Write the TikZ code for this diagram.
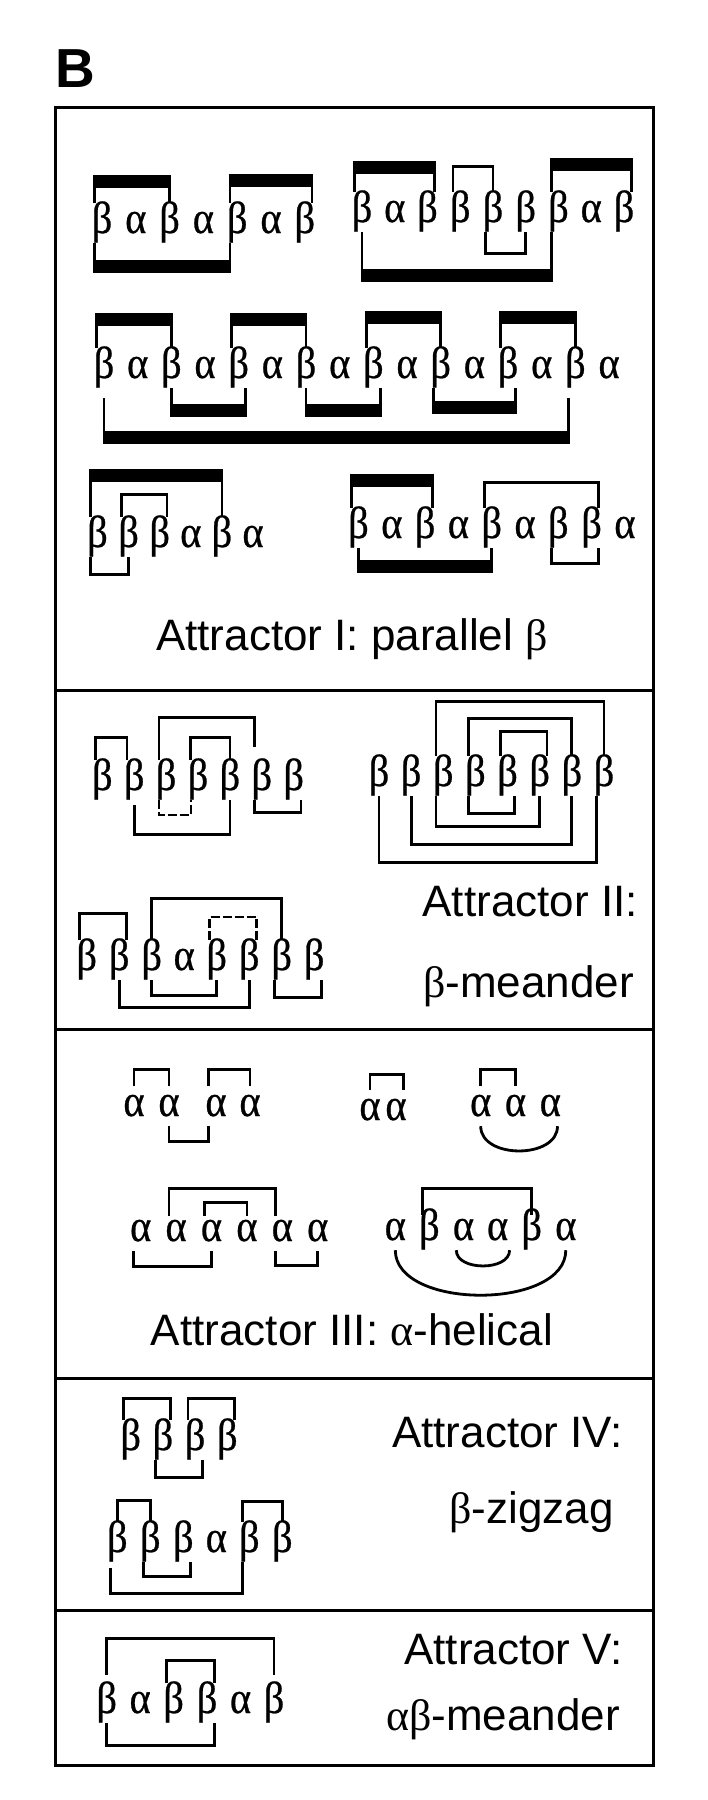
\documentclass[tikz,border=0pt]{standalone}
\usepackage{fontspec}
\setmainfont{Liberation Sans}
\newfontfamily\grkfont[FakeStretch=0.9, FakeBold=0.6]{Liberation Serif}
\newfontfamily\capgrk{Liberation Serif}

\begin{document}
\begin{tikzpicture}[
    x=1pt, y=-1pt,
    res/.style={inner sep=0pt, anchor=base, text height=30pt, text depth=10pt, font=\grkfont\fontsize{45pt}{45pt}\selectfont},
    link/.style={line width=2.8pt},
    bar/.style={line width=13pt, shorten <=-1.4pt, shorten >=-1.4pt},
    broken/.style={line width=2.5pt, dash pattern=on 9pt off 3pt},
    topbr/.style={to path={-- ++(0,-#1) -| (\tikztotarget)}},
    botbr/.style={to path={-- ++(0,#1) -| (\tikztotarget)}},
    panel/.style={draw, line width=3pt, minimum width=598pt, inner sep=0pt},
    attlabel/.style={inner sep=0pt, font=\fontsize{44pt}{44pt}\selectfont}
]
    \useasboundingbox (0,0) rectangle (708,1800);

    \node[anchor=base west, inner sep=0pt, font=\bfseries\fontsize{55pt}{55pt}\selectfont] (lab) at (55,87) {B};

    % Panels
    \node[panel, minimum height=583pt] (att1) at (354,398.5) {};
    \node[panel, minimum height=339pt] (att2) at (354,859.5) {};
    \node[panel, minimum height=349pt] (att3) at (354,1203.5) {};
    \node[panel, minimum height=232pt] (att4) at (354,1494) {};
    \node[panel, minimum height=155pt] (att5) at (354,1687.5) {};

    % Attractor I: parallel beta
    \foreach \s [count=\i] in {β,α,β,α,β,α,β}
        \node[res] (p1-\i) at ({102+33.8*(\i-1)},233) {\makebox[14pt]{\s}};
    \foreach \s [count=\i] in {β,α,β,β,β,β,β,α,β}
        \node[res] (p2-\i) at ({362+32.75*(\i-1)},222) {\makebox[14pt]{\s}};
    \foreach \s [count=\i] in {β,α,β,α,β,α,β,α,β,α,β,α,β,α,β,α}
        \node[res] (p3-\i) at ({104+33.67*(\i-1)},378) {\makebox[14pt]{\s}};
    \foreach \s [count=\i] in {β,β,β,α,β,α}
        \node[res] (p4-\i) at ({97.5+31.1*(\i-1)},547) {\makebox[14pt]{\s}};
    \foreach \s [count=\i] in {β,α,β,α,β,α,β,β,α}
        \node[res] (p5-\i) at ({358.5+33.3*(\i-1)},538) {\makebox[14pt]{\s}};

    \draw[link] (p1-1.north west) to[topbr=21] (p1-3.north);
    \draw[bar] ([yshift=21pt]p1-1.north west) -- ([yshift=21pt]p1-3.north);
    \draw[link] (p1-5.north west) to[topbr=22] (p1-7.north east);
    \draw[bar] ([yshift=22pt]p1-5.north west) -- ([yshift=22pt]p1-7.north east);
    \draw[link] (p1-1.south west) to[botbr=23.5] (p1-5.south west);
    \draw[bar] ([yshift=-23.5pt]p1-1.south west) -- ([yshift=-23.5pt]p1-5.south west);

    \draw[link] (p2-1.north west) to[topbr=24] (p2-3.north east);
    \draw[bar] ([yshift=24pt]p2-1.north west) -- ([yshift=24pt]p2-3.north east);
    \draw[link] (p2-4.north west) to[topbr=25] (p2-5.north);
    \draw[link] (p2-7.north west) to[topbr=27] (p2-9.north east);
    \draw[bar] ([yshift=27pt]p2-7.north west) -- ([yshift=27pt]p2-9.north east);
    \draw[link] (p2-5.south west) to[botbr=21] (p2-6.south);
    \draw[link] (p2-1.south) to[botbr=43.5] (p2-7.south west);
    \draw[bar] ([yshift=-43.5pt]p2-1.south) -- ([yshift=-43.5pt]p2-7.south west);

    \draw[link] (p3-1.north west) to[topbr=28] (p3-3.north);
    \draw[bar] ([yshift=28pt]p3-1.north west) -- ([yshift=28pt]p3-3.north);
    \draw[link] (p3-5.north west) to[topbr=28] (p3-7.north);
    \draw[bar] ([yshift=28pt]p3-5.north west) -- ([yshift=28pt]p3-7.north);
    \draw[link] (p3-9.north west) to[topbr=30] (p3-11.north);
    \draw[bar] ([yshift=30pt]p3-9.north west) -- ([yshift=30pt]p3-11.north);
    \draw[link] (p3-13.north west) to[topbr=30] (p3-15.north);
    \draw[bar] ([yshift=30pt]p3-13.north west) -- ([yshift=30pt]p3-15.north);
    \draw[link] (p3-3.south) to[botbr=22] (p3-5.south east);
    \draw[bar] ([yshift=-22pt]p3-3.south) -- ([yshift=-22pt]p3-5.south east);
    \draw[link] (p3-7.south) to[botbr=22] (p3-9.south east);
    \draw[bar] ([yshift=-22pt]p3-7.south) -- ([yshift=-22pt]p3-9.south east);
    \draw[link] (p3-11.south west) to[botbr=19] (p3-13.south east);
    \draw[bar] ([yshift=-19pt]p3-11.south west) -- ([yshift=-19pt]p3-13.south east);
    \draw[link, shorten <=10pt, shorten >=10pt] (p3-1.south) to[botbr=49] (p3-15.south west);
    \draw[bar] ([yshift=-49pt]p3-1.south) -- ([yshift=-49pt]p3-15.south west);

    \draw[link] (p4-1.north west) to[topbr=41] (p4-5.north);
    \draw[bar] ([yshift=41pt]p4-1.north west) -- ([yshift=41pt]p4-5.north);
    \draw[link] (p4-2.north west) to[topbr=22] (p4-3.north east);
    \draw[link] (p4-1.south west) to[botbr=17] (p4-2.south);

    \draw[link] (p5-1.north west) to[topbr=27] (p5-3.north east);
    \draw[bar] ([yshift=27pt]p5-1.north west) -- ([yshift=27pt]p5-3.north east);
    \draw[link] (p5-5.north west) to[topbr=25] (p5-8.north east);
    \draw[link] (p5-1.south) to[botbr=18] (p5-5.south);
    \draw[bar] ([yshift=-18pt]p5-1.south) -- ([yshift=-18pt]p5-5.south);
    \draw[link] (p5-7.south west) to[botbr=15] (p5-8.south east);

    \node[attlabel, anchor=base] (cap1) at (352,650) {Attractor I: parallel {\capgrk β}};

    % Attractor II: beta-meander
    \foreach \s [count=\i] in {β,β,β,β,β,β,β}
        \node[res] (q1-\i) at ({102.3+31.9*(\i-1)},790) {\makebox[14pt]{\s}};
    \foreach \s [count=\i] in {β,β,β,α,β,β,β,β}
        \node[res] (q2-\i) at ({86.7+32.5*(\i-1)},970) {\makebox[14pt]{\s}};
    \foreach \s [count=\i] in {β,β,β,β,β,β,β,β}
        \node[res] (q3-\i) at ({379+32.14*(\i-1)},786) {\makebox[14pt]{\s}};

    \draw[link] (q1-1.north west) to[topbr=22] (q1-2.north west);
    \draw[link, shorten >=13pt] (q1-3.north west) to[topbr=42] (q1-6.north west);
    \draw[link] (q1-4.north west) to[topbr=22] (q1-5.north);
    \draw[broken] (q1-3.south west) to[botbr=15] (q1-4.south west);
    \draw[link, shorten <=5pt] (q1-2.south) to[botbr=34] (q1-5.south);
    \draw[link] (q1-6.south west) to[botbr=12] (q1-7.south east);

    \draw[link] (q2-1.north west) to[topbr=26] (q2-2.north east);
    \draw[link] (q2-3.north) to[topbr=41] (q2-7.north);
    \draw[broken] (q2-5.north west) to[topbr=23] (q2-6.north east);
    \draw[link] (q2-2.south) to[botbr=27] (q2-6.south);
    \draw[link] (q2-3.south) to[botbr=15] (q2-5.south);
    \draw[link] (q2-7.south west) to[botbr=17] (q2-8.south east);

    \draw[link] (q3-3.north west) to[topbr=54] (q3-8.north);
    \draw[link] (q3-4.north west) to[topbr=37] (q3-7.north);
    \draw[link] (q3-5.north west) to[topbr=24] (q3-6.north east);
    \draw[link] (q3-4.south west) to[botbr=17] (q3-5.south east);
    \draw[link] (q3-3.south west) to[botbr=30] (q3-6.south);
    \draw[link] (q3-2.south) to[botbr=48] (q3-7.south);
    \draw[link] (q3-1.south) to[botbr=66] (q3-8.south west);

    \node[attlabel, anchor=base east] (cap2a) at (638,916) {Attractor II:};
    \node[attlabel, anchor=base east] (cap2b) at (634,997) {{\capgrk β}-meander};

    % Attractor III: alpha-helical
    \node[res] (r1-1) at (134,1116) {\makebox[14pt]{α}};
    \node[res] (r1-2) at (169,1116) {\makebox[14pt]{α}};
    \node[res] (r1-3) at (216,1116) {\makebox[14pt]{α}};
    \node[res] (r1-4) at (250,1116) {\makebox[14pt]{α}};
    \node[res] (r2-1) at (370,1120) {\makebox[14pt]{α}};
    \node[res] (r2-2) at (396,1120) {\makebox[14pt]{α}};
    \foreach \s [count=\i] in {α,α,α}
        \node[res] (r3-\i) at ({480.7+34.8*(\i-1)},1116) {\makebox[14pt]{\s}};
    \foreach \s [count=\i] in {α,α,α,α,α,α}
        \node[res, text height=25pt] (r4-\i) at ({140.7+35.4*(\i-1)},1241) {\makebox[14pt]{\s}};
    \foreach \s [count=\i] in {α,β,α,α,β,α}
        \node[res, text height=25pt] (r5-\i) at ({395.3+34.1*(\i-1)},1240) {\makebox[14pt]{\s}};

    \draw[link] (r1-1.north) to[topbr=16] (r1-2.north);
    \draw[link] (r1-3.north west) to[topbr=16] (r1-4.north);
    \draw[link] (r1-2.south) to[botbr=15] (r1-3.south west);
    \draw[link] (r2-1.north) to[topbr=15] (r2-2.north east);
    \draw[link] (r3-1.north) to[topbr=16] (r3-2.north);
    \draw[link] (r3-1.south) .. controls +(0,33) and +(0,33) .. (r3-3.south east);

    \draw[link] (r4-2.north west) to[topbr=27] (r4-5.north west);
    \draw[link] (r4-3.north west) to[topbr=13] (r4-4.north);
    \draw[link] (r4-1.south west) to[botbr=15] (r4-3.south);
    \draw[link] (r4-5.south west) to[botbr=14] (r4-6.south);

    \draw[link] (r5-2.north west) to[topbr=26] (r5-5.north);
    \draw[link] (r5-3.south west) .. controls +(0,21) and +(0,21) .. ([xshift=12pt]r5-4.south);
    \draw[link] (r5-1.south) .. controls +(0,60) and +(0,60) .. (r5-6.south);

    \node[attlabel, anchor=base] (cap3) at (352,1345) {Attractor III: {\capgrk α}-helical};

    % Attractor IV: beta-zigzag
    \foreach \s [count=\i] in {β,β,β,β}
        \node[res] (s1-\i) at ({130.7+32.2*(\i-1)},1450) {\makebox[14pt]{\s}};
    \foreach \s [count=\i] in {β,β,β,α,β,β}
        \node[res] (s2-\i) at ({117.3+33*(\i-1)},1552) {\makebox[14pt]{\s}};

    \draw[link] (s1-1.north west) to[topbr=21] (s1-2.north east);
    \draw[link] (s1-3.north west) to[topbr=21] (s1-4.north east);
    \draw[link] (s1-2.south west) to[botbr=17] (s1-3.south east);

    \draw[link] (s2-1.north) to[topbr=21] (s2-2.north);
    \draw[link] (s2-5.north west) to[topbr=20] (s2-6.north);
    \draw[link] (s2-2.south west) to[botbr=14] (s2-3.south east);
    \draw[link, shorten <=6pt] (s2-1.south west) to[botbr=31] (s2-5.south west);

    \node[attlabel, anchor=base east] (cap4a) at (623,1447) {Attractor IV:};
    \node[attlabel, anchor=base east] (cap4b) at (614,1523) {{\capgrk β}-zigzag};

    % Attractor V: alpha-beta-meander
    \foreach \s [count=\i] in {β,α,β,β,α,β}
        \node[res] (t1-\i) at ({106.7+33.46*(\i-1)},1713) {\makebox[14pt]{\s}};

    \draw[link, shorten <=8pt, shorten >=8pt] (t1-1.north) to[topbr=44] (t1-6.north);
    \draw[link] (t1-3.north west) to[topbr=22] (t1-4.north east);
    \draw[link] (t1-1.south) to[botbr=22] (t1-4.south east);

    \node[attlabel, anchor=base east] (cap5a) at (623,1664) {Attractor V:};
    \node[attlabel, anchor=base east] (cap5b) at (620,1730) {{\capgrk αβ}-meander};

\end{tikzpicture}
\end{document}
